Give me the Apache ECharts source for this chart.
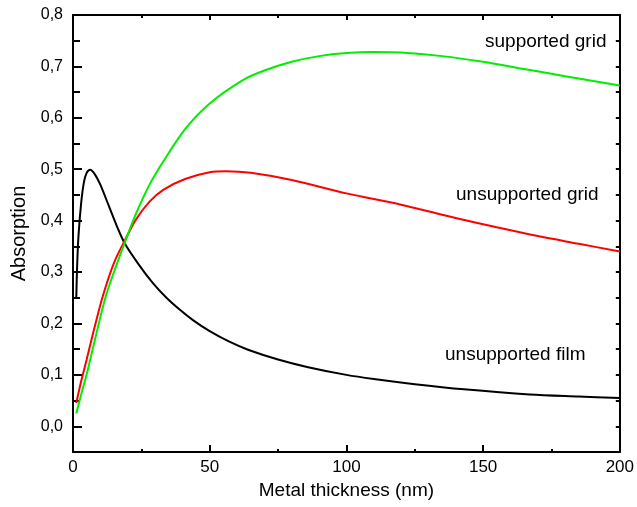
<!DOCTYPE html>
<html>
<head>
<meta charset="utf-8">
<script src="https://cdn.jsdelivr.net/npm/echarts@6/dist/echarts.min.js"></script>
<style>
html,body{margin:0;padding:0;background:#fff;}
#c{width:637px;height:507px;}
</style>
</head>
<body>
<div id="c"></div>
<script>
// ---- data ----
var filmX = [1.2, 1.5, 2, 3, 4, 5, 6.3, 8, 10, 13, 16, 19, 24, 29, 34, 39, 44, 50, 57, 64, 75, 86, 100, 110, 125, 143, 167, 185, 200];
var filmY = [0.25, 0.31, 0.37, 0.435, 0.475, 0.493, 0.499, 0.49, 0.47, 0.43, 0.39, 0.355, 0.315, 0.28, 0.251, 0.227, 0.206, 0.185, 0.165, 0.149, 0.13, 0.115, 0.1, 0.092, 0.082, 0.072, 0.062, 0.058, 0.055];

var uGridX = [1.2, 3, 5, 8, 11, 15, 19, 23, 28, 33, 41, 50, 56, 65, 80, 100, 120, 140, 155, 170, 185, 200];
var uGridY = [0.045, 0.088, 0.13, 0.195, 0.255, 0.318, 0.362, 0.402, 0.437, 0.46, 0.481, 0.494, 0.496, 0.493, 0.479, 0.453, 0.431, 0.405, 0.387, 0.37, 0.355, 0.34];

var sGridX = [1.2, 3, 5, 8, 12, 16, 19, 23, 28, 33, 41, 50, 62, 70, 80, 90, 100, 110, 120, 135, 150, 165, 180, 200];
var sGridY = [0.025, 0.062, 0.101, 0.168, 0.253, 0.315, 0.358, 0.413, 0.47, 0.515, 0.578, 0.628, 0.673, 0.692, 0.709, 0.72, 0.726, 0.728, 0.727, 0.72, 0.709, 0.695, 0.681, 0.663];

var yMajorTicks = [0, 0.1, 0.2, 0.3, 0.4, 0.5, 0.6, 0.7, 0.8];
var yMinorTicks = [-0.05, 0.05, 0.15, 0.25, 0.35, 0.45, 0.55, 0.65, 0.75];
var xTicks = [0, 50, 100, 150, 200];

var seriesNames = ['unsupported film', 'unsupported grid', 'supported grid'];

function pairs(xs, ys) {
  return xs.map(function (x, i) { return [x, ys[i]]; });
}

var FONT = '"Liberation Sans", Arial, sans-serif';
var chart = echarts.init(document.getElementById('c'), null, {renderer: 'canvas'});

var gridBox = {left: 73, right: 13, top: 15, bottom: 55};

function yAxisBase(extra) {
  return Object.assign({
    type: 'value', min: -0.05, max: 0.8, gridIndex: 0,
    splitLine: {show: false},
    axisLine: {show: true, onZero: false, lineStyle: {color: '#000', width: 2}}
  }, extra);
}

var option = {
  backgroundColor: '#fff',
  animation: false,
  grid: gridBox,
  xAxis: [
    {
      type: 'value', min: 0, max: 200, interval: 50, position: 'bottom',
      name: 'Metal thickness (nm)', nameLocation: 'middle', nameGap: 27,
      nameTextStyle: {fontFamily: FONT, fontSize: 19, color: '#000'},
      axisLine: {show: true, onZero: false, lineStyle: {color: '#000', width: 2}},
      axisTick: {show: true, inside: true, length: 7, customValues: xTicks, lineStyle: {color: '#000', width: 2}},
      minorTick: {show: true, splitNumber: 2, length: 3, lineStyle: {color: '#000', width: 2}},
      axisLabel: {customValues: xTicks, margin: 7, fontFamily: FONT, fontSize: 17, color: '#000'},
      splitLine: {show: false}, minorSplitLine: {show: false}
    },
    {
      type: 'value', min: 0, max: 200, interval: 50, position: 'top',
      axisLine: {show: true, onZero: false, lineStyle: {color: '#000', width: 2}},
      axisTick: {show: true, inside: true, length: 5, lineStyle: {color: '#000', width: 2}},
      minorTick: {show: true, splitNumber: 2, length: 3, lineStyle: {color: '#000', width: 2}},
      axisLabel: {show: false},
      splitLine: {show: false}
    }
  ],
  yAxis: [
    yAxisBase({
      position: 'left',
      name: 'Absorption', nameLocation: 'middle', nameGap: 42, nameRotate: 90,
      nameTextStyle: {fontFamily: FONT, fontSize: 20, color: '#000'},
      axisTick: {show: true, inside: true, length: 9, customValues: yMajorTicks, lineStyle: {color: '#000', width: 2}},
      axisLabel: {
        customValues: yMajorTicks, margin: 10, fontFamily: FONT, fontSize: 16, color: '#000',
        formatter: function (v) { return v.toFixed(1).replace('.', ','); }
      }
    }),
    yAxisBase({
      position: 'left',
      axisLine: {show: false},
      axisTick: {show: true, inside: true, length: 7, customValues: yMinorTicks, lineStyle: {color: '#000', width: 2}},
      axisLabel: {show: false}
    }),
    yAxisBase({
      position: 'right',
      axisTick: {show: true, inside: true, length: 4, customValues: yMajorTicks.concat(yMinorTicks), lineStyle: {color: '#000', width: 2}},
      axisLabel: {show: false}
    })
  ],
  series: [
    {
      name: seriesNames[0], type: 'line', xAxisIndex: 0, yAxisIndex: 0,
      data: pairs(filmX, filmY), showSymbol: false, smooth: 0.3,
      lineStyle: {color: '#000000', width: 2}, itemStyle: {color: '#000'}
    },
    {
      name: seriesNames[1], type: 'line', xAxisIndex: 0, yAxisIndex: 0,
      data: pairs(uGridX, uGridY), showSymbol: false, smooth: 0.3,
      lineStyle: {color: '#ff0000', width: 2}, itemStyle: {color: '#ff0000'}
    },
    {
      name: seriesNames[2], type: 'line', xAxisIndex: 0, yAxisIndex: 0,
      data: pairs(sGridX, sGridY), showSymbol: false, smooth: 0.3,
      lineStyle: {color: '#00ee00', width: 2}, itemStyle: {color: '#00ee00'}
    }
  ],
  graphic: [
    {type: 'text', left: 485, top: 32, style: {text: seriesNames[2], font: '19px ' + FONT, fill: '#000'}},
    {type: 'text', left: 456, top: 185, style: {text: seriesNames[1], font: '19px ' + FONT, fill: '#000'}},
    {type: 'text', left: 445, top: 345, style: {text: seriesNames[0], font: '19px ' + FONT, fill: '#000'}}
  ]
};
chart.setOption(option);
</script>
</body>
</html>
